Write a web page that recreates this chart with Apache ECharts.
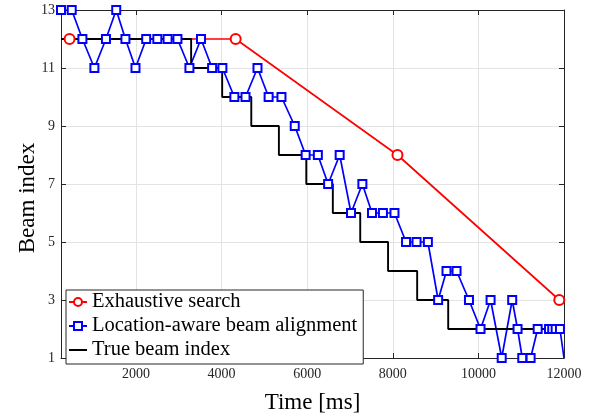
<!DOCTYPE html>
<html>
<head>
<meta charset="utf-8">
<script src="https://cdn.jsdelivr.net/npm/echarts@6/dist/echarts.min.js"></script>
<style>
  html, body { margin: 0; padding: 0; background: #fff; }
  #chart { width: 597px; height: 419px; }
</style>
</head>
<body>
<div id="chart"></div>
<script>
// exhaustive search
const exTime = [450, 4330, 8110, 11890];
const exBeam = [12, 12, 8, 3];

// location-aware beam alignment
const laTime = [250, 500, 750, 1030, 1300, 1540, 1755, 1990, 2240, 2500, 2740, 2970,
  3250, 3520, 3780, 4020, 4300, 4560, 4840, 5100, 5400, 5710, 5965, 6250, 6490, 6760,
  7025, 7290, 7515, 7770, 8040, 8310, 8555, 8820, 9060, 9255, 9490, 9780, 10050, 10285,
  10545, 10790, 10915, 11025, 11220, 11385, 11650, 11725, 11805, 11905, 12000];
const laBeam = [13, 13, 12, 11, 12, 13, 12, 11, 12, 12, 12, 12,
  11, 12, 11, 11, 10, 10, 11, 10, 10, 9, 8, 8, 7, 8,
  6, 7, 6, 6, 6, 5, 5, 5, 3, 4, 4, 3, 2, 3,
  1, 3, 2, 1, 1, 2, 2, 2, 2, 2, 1];

// true beam index (step changes)
const trueTime = [250, 3290, 4015, 4695, 5340, 5980, 6600, 7240, 7890, 8570, 9295, 11880];
const trueBeam = [12, 11, 10, 9, 8, 7, 6, 5, 4, 3, 2, 2];

const xTicks = [2000, 4000, 6000, 8000, 10000, 12000];
const yTicks = [1, 3, 5, 7, 9, 11, 13];

const font = "'Liberation Serif', 'DejaVu Serif', serif";
const axisColor = "#262626";

const chart = echarts.init(document.getElementById("chart"));

function pairs(t, v) {
  return t.map((x, i) => [x, v[i]]);
}

const laData = pairs(laTime, laBeam).map((p, i) =>
  i === laTime.length - 1 ? { value: p, symbol: "none" } : p
);

function xAxisOf(pos, labels) {
  return {
    type: "value",
    position: pos,
    min: 250,
    max: 12000,
    name: labels ? "Time [ms]" : "",
    nameLocation: "middle",
    nameGap: 33,
    nameTextStyle: { fontFamily: font, fontSize: 23, color: "#000" },
    axisLine: { show: true, onZero: false, lineStyle: { color: axisColor, width: 1 } },
    axisTick: { show: true, inside: true, length: 5, customValues: xTicks, lineStyle: { color: axisColor } },
    axisLabel: {
      show: labels,
      customValues: xTicks,
      formatter: (v) => String(v),
      margin: 9,
      fontFamily: font,
      fontSize: 14,
      color: "#262626",
    },
    splitLine: { show: labels, lineStyle: { color: "#e3e3e3", width: 1 } },
  };
}

function yAxisOf(pos, labels) {
  return {
    type: "value",
    position: pos,
    min: 1,
    max: 13,
    axisLine: { show: true, onZero: false, lineStyle: { color: axisColor, width: 1 } },
    axisTick: { show: true, inside: true, length: 5, customValues: yTicks, lineStyle: { color: axisColor } },
    axisLabel: {
      show: labels,
      customValues: yTicks,
      margin: 6,
      fontFamily: font,
      fontSize: 14,
      color: "#262626",
    },
    splitLine: { show: labels, lineStyle: { color: "#e3e3e3", width: 1 } },
  };
}

const option = {
  animation: false,
  backgroundColor: "#fff",
  grid: { left: 61, right: 33, top: 10, bottom: 51 },
  xAxis: [xAxisOf("bottom", true), xAxisOf("top", false)],
  yAxis: [yAxisOf("left", true), yAxisOf("right", false)],
  // y axis title, placed by hand to match the reference
  graphic: [
    {
      type: "text",
      x: 28,
      y: 198,
      rotation: Math.PI / 2,
      style: {
        text: "Beam index",
        fontFamily: font,
        fontSize: 23,
        fill: "#000",
        align: "center",
        verticalAlign: "middle",
      },
    },
  ],
  legend: {
    orient: "vertical",
    left: 66,
    top: 290,
    padding: [0, 6, 2, 2],
    itemGap: 0,
    itemWidth: 18,
    itemHeight: 10,
    backgroundColor: "#fff",
    borderColor: axisColor,
    borderWidth: 1,
    borderRadius: 0,
    textStyle: { fontFamily: font, fontSize: 20.5, color: "#000", lineHeight: 24 },
    data: [
      "Exhaustive search",
      "Location-aware beam alignment",
      { name: "True beam index", itemStyle: { opacity: 0 } },
    ],
  },
  series: [
    {
      name: "Exhaustive search",
      type: "line",
      data: pairs(exTime, exBeam),
      symbol: "emptyCircle",
      symbolSize: 10,
      color: "#ff0000",
      lineStyle: { color: "#ff0000", width: 1.7 },
      itemStyle: { color: "#ff0000", borderColor: "#ff0000", borderWidth: 1.6 },
    },
    {
      name: "Location-aware beam alignment",
      type: "line",
      data: laData,
      symbol: "emptyRect",
      symbolSize: 8,
      color: "#0000ff",
      lineStyle: { color: "#0000ff", width: 1.7 },
      itemStyle: { color: "#0000ff", borderColor: "#0000ff", borderWidth: 1.7 },
    },
    {
      name: "True beam index",
      type: "line",
      step: "end",
      data: pairs(trueTime, trueBeam),
      symbol: "none",
      color: "#000",
      lineStyle: { color: "#000", width: 1.9 },
    },
  ],
};

chart.setOption(option);
</script>
</body>
</html>
